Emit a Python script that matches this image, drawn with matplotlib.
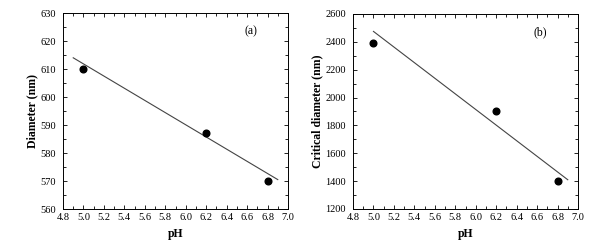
import matplotlib
matplotlib.use("Agg")
import matplotlib.pyplot as plt
from matplotlib.ticker import MultipleLocator

plt.rcParams['font.family'] = ['Liberation Serif', 'DejaVu Serif']

ph = [5.0, 6.2, 6.8]
diameter = [610, 587, 570]
critical = [2390, 1900, 1400]

fit_a_x = [4.9, 6.9]
fit_a_y = [614, 570.5]
fit_b_x = [5.0, 6.9]
fit_b_y = [2475, 1410]

fig = plt.figure(figsize=(5.89, 2.47), dpi=100)
W, H = 589, 247
ax1 = fig.add_axes([63 / W, 1 - 209 / H, 225 / W, 196 / H])
ax2 = fig.add_axes([353 / W, 1 - 209 / H, 225 / W, 195 / H])

def style(ax, ymaj, ymin, ylim):
    ax.set_xlim(4.8, 7.0)
    ax.set_ylim(*ylim)
    ax.xaxis.set_major_locator(MultipleLocator(0.2))
    ax.xaxis.set_minor_locator(MultipleLocator(0.1))
    ax.yaxis.set_major_locator(MultipleLocator(ymaj))
    ax.yaxis.set_minor_locator(MultipleLocator(ymin))
    ax.tick_params(which='both', direction='in', top=True, right=True,
                   labelsize=7.5, width=0.6)
    ax.tick_params(axis='x', pad=3)
    ax.tick_params(axis='y', pad=5)
    ax.tick_params(which='major', length=3)
    ax.tick_params(which='minor', length=2)
    ax.xaxis.set_major_formatter(plt.FuncFormatter(lambda v, p: f"{v:.1f}"))
    for s in ax.spines.values():
        s.set_linewidth(0.7)
    ax.set_xlabel('pH', fontsize=8.5, fontweight='bold', labelpad=4)

ax1.plot(fit_a_x, fit_a_y, color='#444444', lw=0.8)
ax1.plot(ph, diameter, 'o', color='black', ms=4.8)
style(ax1, 10, 5, (560, 630))
ax1.set_ylabel('Diameter (nm)', fontsize=8.5, fontweight='bold', labelpad=1.5)
ax1.text(0.805, 0.89, '(a)', transform=ax1.transAxes, fontsize=8.5)

ax2.plot(fit_b_x, fit_b_y, color='#444444', lw=0.8)
ax2.plot(ph, critical, 'o', color='black', ms=4.8)
style(ax2, 200, 100, (1200, 2600))
ax2.set_ylabel('Critical diameter (nm)', fontsize=8.5, fontweight='bold', labelpad=1.5)
ax2.text(0.8, 0.89, '(b)', transform=ax2.transAxes, fontsize=8.5)

fig.savefig('out.png', dpi=100)
